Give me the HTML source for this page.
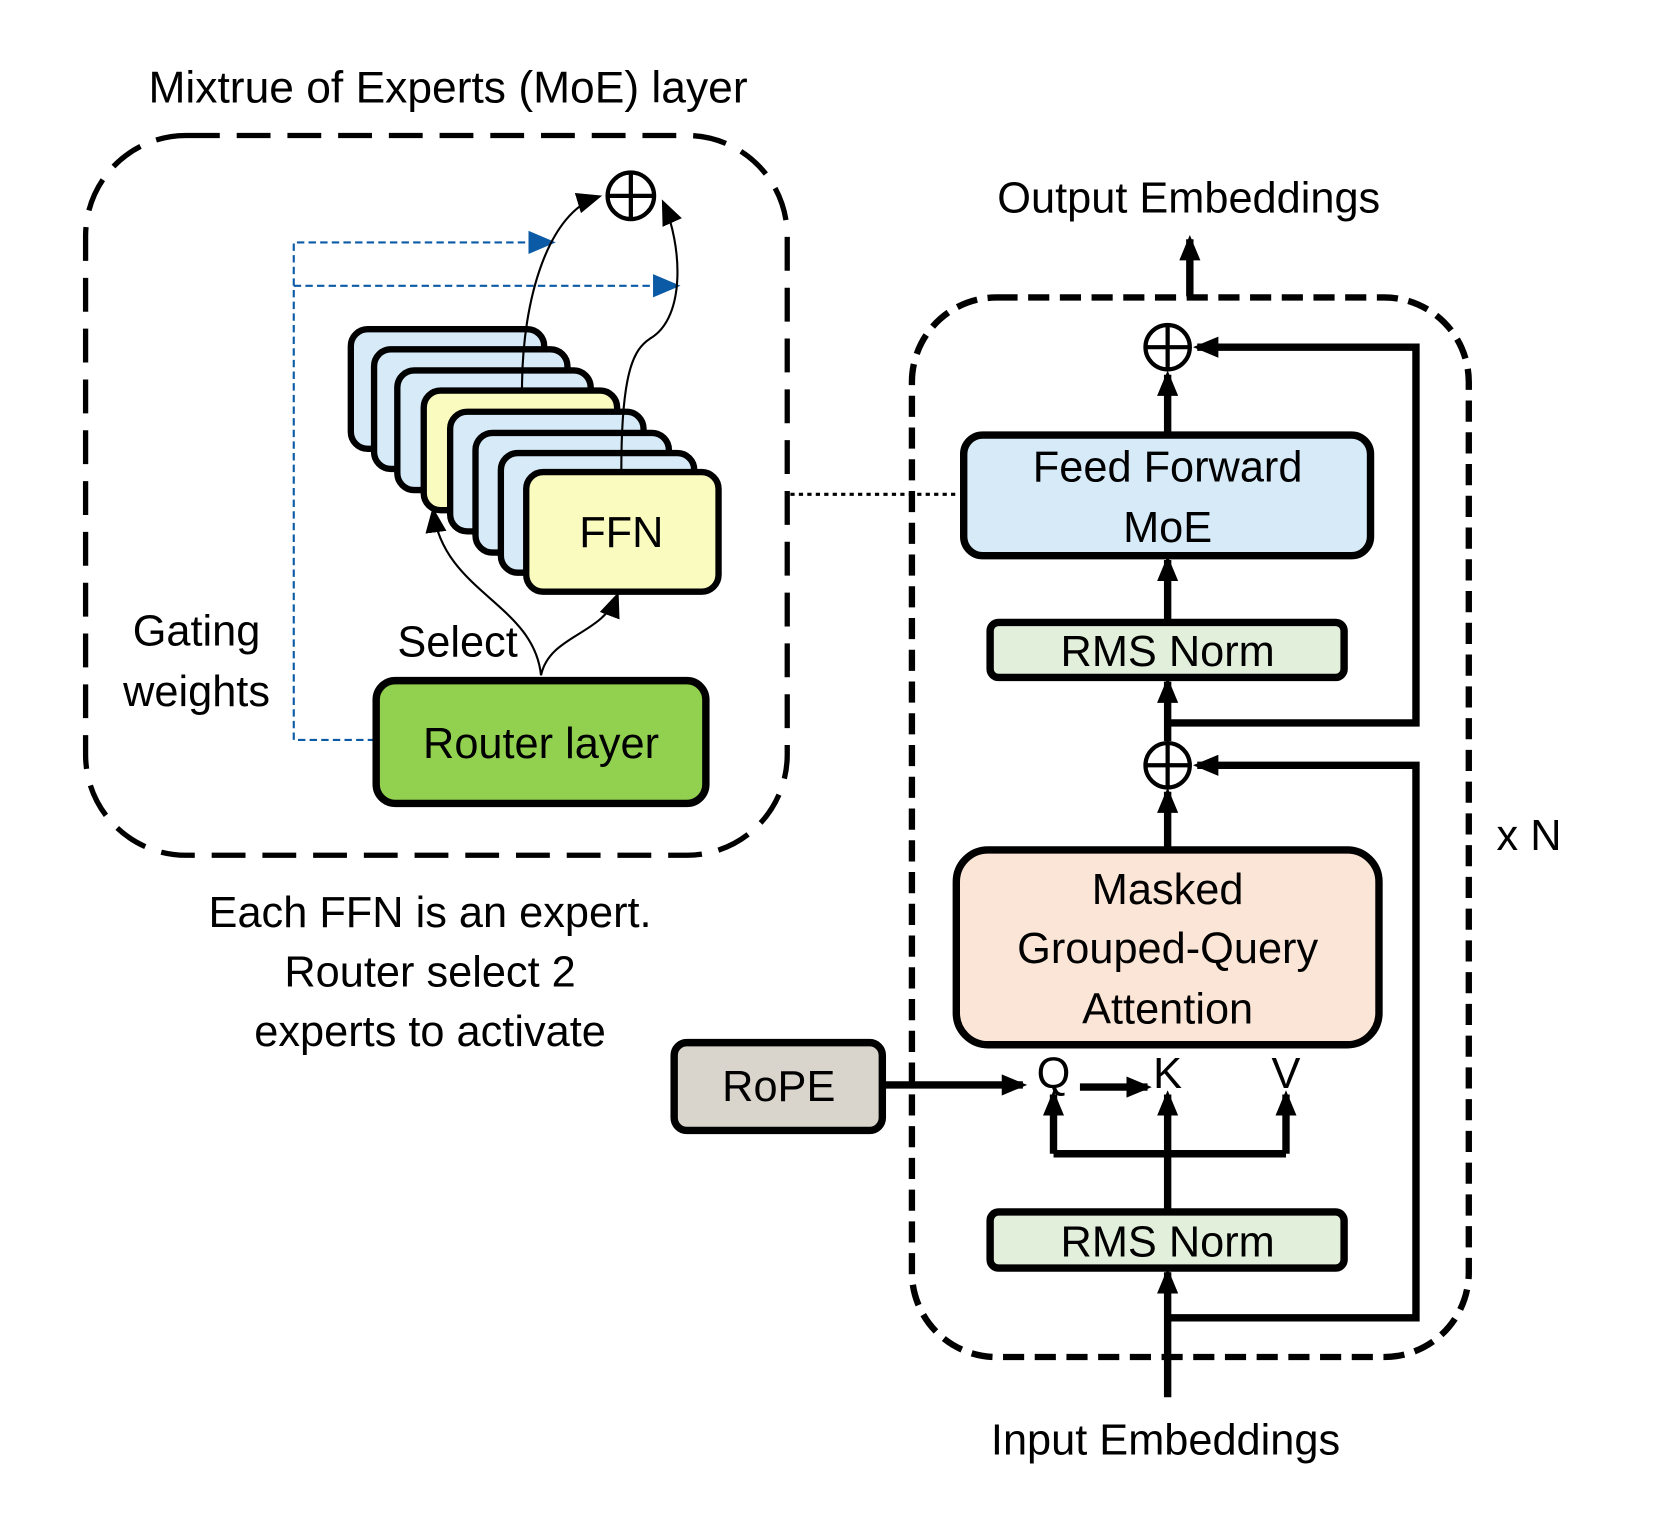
<!DOCTYPE html>
<html><head><meta charset="utf-8"><style>
html,body{margin:0;padding:0;background:#fff}
svg{display:block}
text{font-family:"Liberation Sans",Arial,sans-serif;fill:#000}
</style></head><body>
<svg width="1659" height="1520" viewBox="0 0 1570 1436" preserveAspectRatio="none" xmlns="http://www.w3.org/2000/svg">
<defs>
<marker id="asl" markerWidth="24" markerHeight="20" refX="20" refY="10" orient="auto" markerUnits="userSpaceOnUse"><path d="M0,0 L24,10 L0,20 z" fill="#000"/></marker>
<marker id="abl" markerWidth="26" markerHeight="22" refX="22" refY="11" orient="auto" markerUnits="userSpaceOnUse"><path d="M0,0 L26,11 L0,22 z" fill="#0b5aa6"/></marker>
</defs>

<text x="424" y="97" font-size="42" text-anchor="middle">Mixtrue of Experts (MoE) layer</text>
<rect x="81" y="128" width="664" height="680" rx="95" fill="none" stroke="#000" stroke-width="5" stroke-dasharray="32,16"/>

<g stroke="#0b5aa6" stroke-width="2" fill="none" stroke-dasharray="7,4">
<path d="M355,699 H278 V229 H522" marker-end="url(#abl)"/>
<path d="M278,270 H640" marker-end="url(#abl)"/>
</g>

<g stroke="#000" stroke-width="6">
<rect x="332" y="311" width="183" height="113" rx="16" fill="#d6eaf8"/>
<rect x="354" y="330" width="183" height="113" rx="16" fill="#d6eaf8"/>
<rect x="376" y="350" width="183" height="113" rx="16" fill="#d6eaf8"/>
<rect x="401" y="369" width="183" height="113" rx="16" fill="#fafbbf"/>
<rect x="426" y="389" width="183" height="113" rx="16" fill="#d6eaf8"/>
<rect x="450" y="409" width="183" height="113" rx="16" fill="#d6eaf8"/>
<rect x="474" y="428" width="183" height="113" rx="16" fill="#d6eaf8"/>
<rect x="498" y="446" width="182" height="113" rx="16" fill="#fafbbf"/>
</g>
<text x="588" y="517" font-size="41" text-anchor="middle">FFN</text>

<g stroke="#000" stroke-width="2" fill="none">
<path d="M494,368 C494,280 520,200 566,186" marker-end="url(#asl)"/>
<path d="M588,444 C588,350 600,330 615,320 C650,300 645,230 628,192" marker-end="url(#asl)"/>
<path d="M512,638 C505,570 420,560 410,483" marker-end="url(#asl)"/>
<path d="M512,638 C520,600 570,600 584,563" marker-end="url(#asl)"/>
</g>
<circle cx="597" cy="185" r="22" fill="#fff" stroke="#000" stroke-width="4"/>
<path d="M575,185 H619 M597,163 V207" stroke="#000" stroke-width="4"/>

<rect x="356" y="643" width="312" height="116" rx="18" fill="#92d050" stroke="#000" stroke-width="7"/>
<text x="512" y="716" font-size="41" text-anchor="middle">Router layer</text>
<text x="433" y="620" font-size="41" text-anchor="middle">Select</text>
<text x="186" y="610" font-size="41" text-anchor="middle">Gating</text>
<text x="186" y="667" font-size="41" text-anchor="middle">weights</text>

<text x="407" y="876" font-size="41" text-anchor="middle">Each FFN is an expert.</text>
<text x="407" y="932" font-size="41" text-anchor="middle">Router select 2</text>
<text x="407" y="988" font-size="41" text-anchor="middle">experts to activate</text>

<path d="M748,467 H908" stroke="#000" stroke-width="3" stroke-dasharray="4,4"/>

<text x="1125" y="201" font-size="41" text-anchor="middle">Output Embeddings</text>
<path d="M1126,280 V226" stroke="#000" stroke-width="7" fill="none" marker-end="url(#asl)"/>
<rect x="863" y="281" width="527" height="1001" rx="80" fill="none" stroke="#000" stroke-width="6" stroke-dasharray="20,10"/>

<g stroke="#000" stroke-width="7" fill="none">
<path d="M1105,408 V354" marker-end="url(#asl)"/>
<path d="M1105,683 H1340 V328 H1133" marker-end="url(#asl)"/>
<path d="M1105,585 V529" marker-end="url(#asl)"/>
<path d="M1105,700 V644" marker-end="url(#asl)"/>
<path d="M1105,800 V748" marker-end="url(#asl)"/>
<path d="M1105,1245 H1340 V723 H1133" marker-end="url(#asl)"/>
<path d="M1105,1320 V1202" marker-end="url(#asl)"/>
<path d="M1105,1143 V1034" marker-end="url(#asl)"/>
<path d="M997,1090 H1217"/>
<path d="M997,1090 V1034" marker-end="url(#asl)"/>
<path d="M1217,1090 V1034" marker-end="url(#asl)"/>
<path d="M836,1025 H968" marker-end="url(#asl)"/>
<path d="M1022,1027 H1086" marker-end="url(#asl)"/>
</g>

<circle cx="1105" cy="328" r="21" fill="#fff" stroke="#000" stroke-width="4"/>
<path d="M1084,328 H1126 M1105,307 V349" stroke="#000" stroke-width="4"/>
<circle cx="1105" cy="723" r="21" fill="#fff" stroke="#000" stroke-width="4"/>
<path d="M1084,723 H1126 M1105,702 V744" stroke="#000" stroke-width="4"/>

<rect x="912" y="411" width="385" height="114" rx="18" fill="#d6eaf8" stroke="#000" stroke-width="7"/>
<text x="1105" y="455" font-size="41" text-anchor="middle">Feed Forward</text>
<text x="1105" y="512" font-size="41" text-anchor="middle">MoE</text>

<rect x="937" y="588" width="335" height="52" rx="8" fill="#e2efda" stroke="#000" stroke-width="7"/>
<text x="1105" y="629" font-size="41" text-anchor="middle">RMS Norm</text>

<rect x="905" y="803" width="400" height="184" rx="30" fill="#fbe5d6" stroke="#000" stroke-width="7"/>
<text x="1105" y="854" font-size="41" text-anchor="middle">Masked</text>
<text x="1105" y="910" font-size="41" text-anchor="middle">Grouped-Query</text>
<text x="1105" y="967" font-size="41" text-anchor="middle">Attention</text>

<text x="997" y="1028" font-size="41" text-anchor="middle">Q</text>
<text x="1105" y="1028" font-size="41" text-anchor="middle">K</text>
<text x="1217" y="1028" font-size="41" text-anchor="middle">V</text>

<rect x="638" y="985" width="197" height="83" rx="12" fill="#d9d5cc" stroke="#000" stroke-width="7"/>
<text x="737" y="1040" font-size="41" text-anchor="middle">RoPE</text>

<rect x="937" y="1145" width="335" height="53" rx="8" fill="#e2efda" stroke="#000" stroke-width="7"/>
<text x="1105" y="1187" font-size="41" text-anchor="middle">RMS Norm</text>

<text x="1103" y="1374" font-size="41" text-anchor="middle">Input Embeddings</text>
<text x="1447" y="803" font-size="41" text-anchor="middle">x N</text>
</svg>
</body></html>
